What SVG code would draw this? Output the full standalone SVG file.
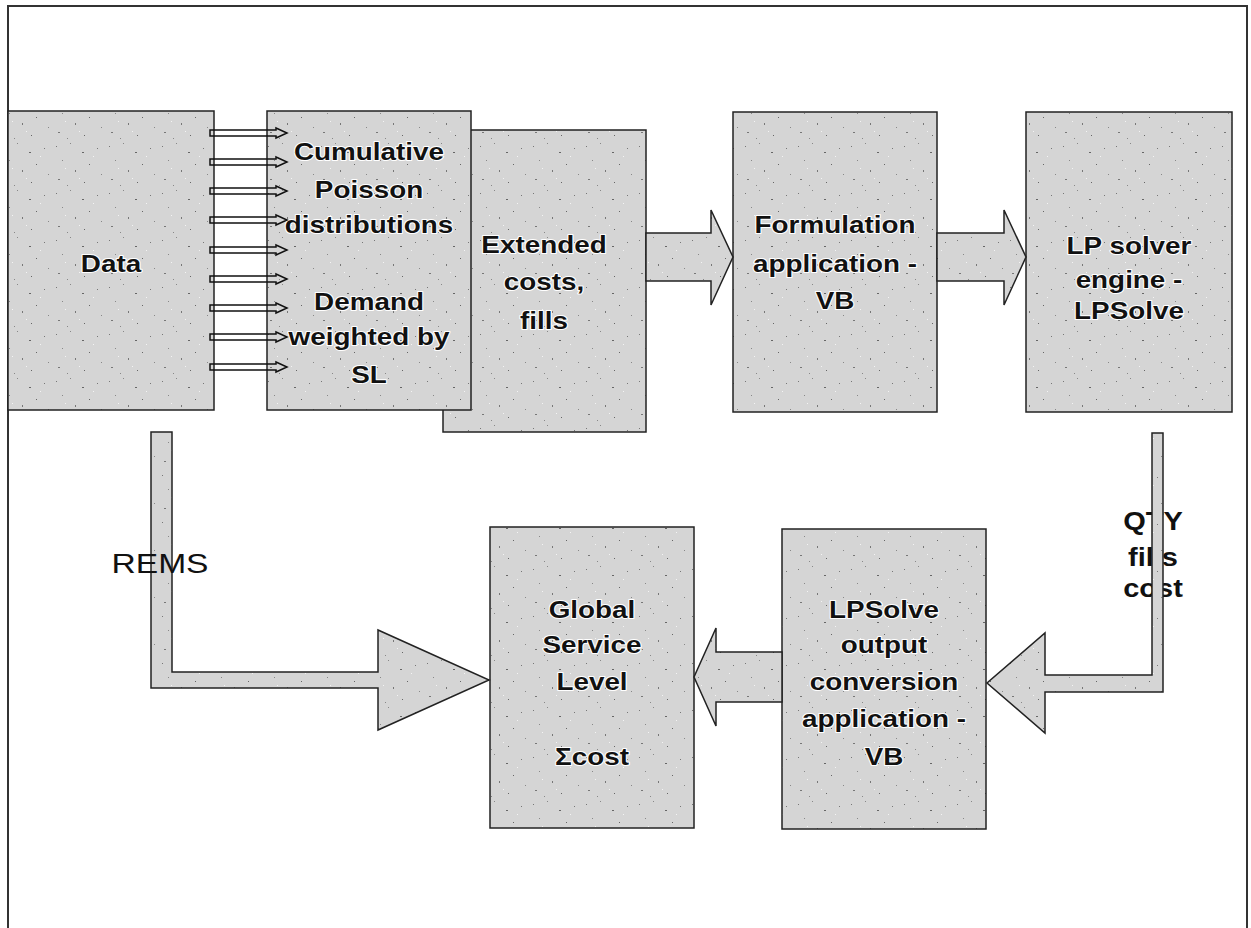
<svg xmlns="http://www.w3.org/2000/svg" width="1251" height="928" viewBox="0 0 1251 928">
<defs>
<pattern id="stip" width="53" height="47" patternUnits="userSpaceOnUse">
<rect width="53" height="47" fill="#d5d5d5"/>
<rect x="3" y="5" width="1" height="1" fill="#777"/>
<rect x="17" y="2" width="1" height="1" fill="#888"/>
<rect x="29" y="11" width="2" height="1" fill="#666"/>
<rect x="44" y="7" width="1" height="1" fill="#777"/>
<rect x="9" y="19" width="1" height="1" fill="#888"/>
<rect x="36" y="23" width="1" height="1" fill="#666"/>
<rect x="22" y="29" width="1" height="2" fill="#777"/>
<rect x="48" y="33" width="1" height="1" fill="#888"/>
<rect x="5" y="38" width="2" height="1" fill="#777"/>
<rect x="31" y="41" width="1" height="1" fill="#666"/>
<rect x="14" y="44" width="1" height="1" fill="#888"/>
<rect x="40" y="15" width="1" height="1" fill="#f4f4f4"/>
<rect x="12" y="27" width="1" height="1" fill="#f4f4f4"/>
<rect x="26" y="37" width="1" height="1" fill="#f4f4f4"/>
</pattern>
<style>
.box{fill:url(#stip);stroke:#222;stroke-width:1.5}
.lbl{font-family:"Liberation Sans",Arial,sans-serif;font-weight:bold;font-size:24px;text-anchor:middle;fill:#111;stroke:#fff;stroke-width:2;paint-order:stroke;stroke-linejoin:round}
.arr{fill:url(#stip);stroke:#222;stroke-width:1.5;stroke-linejoin:miter}
.thin{fill:none;stroke:#111;stroke-width:1.5}
.clbl{font-family:"Liberation Sans",Arial,sans-serif;font-size:26px;text-anchor:middle;fill:#111}
</style>
</defs>
<rect width="1251" height="928" fill="#fff"/>
<path d="M8,928 V6 H1247 V928" fill="none" stroke="#333" stroke-width="2"/>

<g id="n-extended">
<rect class="box" x="443" y="130" width="203" height="302"/>
<text class="lbl" transform="matrix(1.16 0 0 1 544 0)"><tspan x="0" y="253">Extended</tspan><tspan x="0" y="290">costs,</tspan><tspan x="0" y="329">fills</tspan></text>
</g>
<g id="n-data">
<rect class="box" x="8" y="111" width="206" height="299"/>
<text class="lbl" transform="matrix(1.16 0 0 1 111 0)"><tspan x="0" y="272">Data</tspan></text>
</g>
<g id="n-cumulative">
<rect class="box" x="267" y="111" width="204" height="299"/>
<text class="lbl" transform="matrix(1.16 0 0 1 369 0)"><tspan x="0" y="160">Cumulative</tspan><tspan x="0" y="198">Poisson</tspan><tspan x="0" y="233">distributions</tspan><tspan x="0" y="310">Demand</tspan><tspan x="0" y="345">weighted by</tspan><tspan x="0" y="383">SL</tspan></text>
</g>
<g id="n-formulation">
<rect class="box" x="733" y="112" width="204" height="300"/>
<text class="lbl" transform="matrix(1.16 0 0 1 835 0)"><tspan x="0" y="233">Formulation</tspan><tspan x="0" y="272">application -</tspan><tspan x="0" y="309">VB</tspan></text>
</g>
<g id="n-lpsolver">
<rect class="box" x="1026" y="112" width="206" height="300"/>
<text class="lbl" transform="matrix(1.16 0 0 1 1129 0)"><tspan x="0" y="254">LP solver</tspan><tspan x="0" y="288">engine -</tspan><tspan x="0" y="319">LPSolve</tspan></text>
</g>
<g id="n-global">
<rect class="box" x="490" y="527" width="204" height="301"/>
<text class="lbl" transform="matrix(1.16 0 0 1 592 0)"><tspan x="0" y="618">Global</tspan><tspan x="0" y="653">Service</tspan><tspan x="0" y="690">Level</tspan><tspan x="0" y="765">Σcost</tspan></text>
</g>
<g id="n-conversion">
<rect class="box" x="782" y="529" width="204" height="300"/>
<text class="lbl" transform="matrix(1.16 0 0 1 884 0)"><tspan x="0" y="618">LPSolve</tspan><tspan x="0" y="653">output</tspan><tspan x="0" y="690">conversion</tspan><tspan x="0" y="727">application -</tspan><tspan x="0" y="765">VB</tspan></text>
</g>

<g id="connectors">
<path class="thin" d="M210,130 H276 V128 L287,133 L276,138 V136 H210 Z"/>
<path class="thin" d="M210,159 H276 V157 L287,162 L276,167 V165 H210 Z"/>
<path class="thin" d="M210,188 H276 V186 L287,191 L276,196 V194 H210 Z"/>
<path class="thin" d="M210,217 H276 V215 L287,220 L276,225 V223 H210 Z"/>
<path class="thin" d="M210,247 H276 V245 L287,250 L276,255 V253 H210 Z"/>
<path class="thin" d="M210,276 H276 V274 L287,279 L276,284 V282 H210 Z"/>
<path class="thin" d="M210,305 H276 V303 L287,308 L276,313 V311 H210 Z"/>
<path class="thin" d="M210,334 H276 V332 L287,337 L276,342 V340 H210 Z"/>
<path class="thin" d="M210,364 H276 V362 L287,367 L276,372 V370 H210 Z"/>
<path class="arr" d="M646,233 H711 V210 L733,257 L711,305 V281 H646 Z"/>
<path class="arr" d="M937,233 H1004 V210 L1026,257 L1004,305 V281 H937 Z"/>
<path class="arr" d="M782,652 H716 V628 L694,677 L716,726 V702 H782 Z"/>
<text class="clbl" transform="matrix(1.16 0 0 1 1153 0)" style="font-weight:bold;font-size:25px"><tspan x="0" y="530">QTY</tspan><tspan x="0" y="566">fills</tspan><tspan x="0" y="597">cost</tspan></text>
<path class="arr" d="M1152,433 H1163 V692 H1045 V733 L987,683 L1045,633 V675 H1152 Z"/>
<path class="arr" d="M151,432 H172 V672 H378 V630 L489,680 L378,730 V688 H151 Z"/>
<text class="clbl" transform="matrix(1.2 0 0 1 160 0)" style="font-size:28px"><tspan x="0" y="573">REMS</tspan></text>
</g>
</svg>
